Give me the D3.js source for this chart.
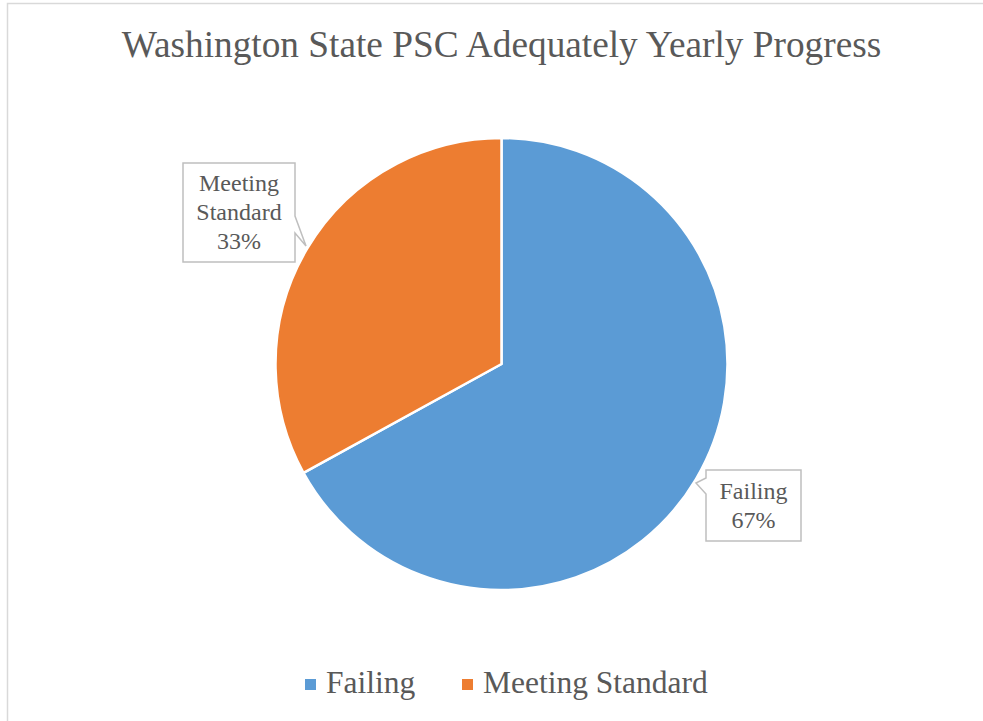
<!DOCTYPE html>
<html>
<head>
<meta charset="utf-8">
<script src="https://cdn.jsdelivr.net/npm/d3@7"></script>
<style>
  html, body { margin: 0; padding: 0; background: #fff; }
</style>
</head>
<body>
<svg width="983" height="721"></svg>
<script>
var categories = ['Failing', 'Meeting Standard'];
var values = [67, 33];
var labels = ['67%', '33%'];
var colors = ['#5B9BD5', '#ED7D31'];

var width = 983, height = 721;
var cx = 501.5, cy = 364, radius = 226;
var font = "'Liberation Serif', 'DejaVu Serif', 'Times New Roman', serif";

var svg = d3.select('svg')
  .attr('font-family', font);

// chart area border (only top/left visible in the crop)
svg.append('rect')
  .attr('x', 7.5).attr('y', 3.5)
  .attr('width', 1000).attr('height', 1000)
  .attr('fill', 'none')
  .attr('stroke', '#d9d9d9')
  .attr('stroke-width', 1.5);

svg.append('text')
  .attr('x', cx).attr('y', 57)
  .attr('text-anchor', 'middle')
  .attr('fill', '#595959')
  .style('font-family', font)
  .style('font-size', '37.3px')
  .text('Washington State PSC Adequately Yearly Progress');

var data = categories.map(function(c, i) {
  return { name: c, value: values[i], label: labels[i], color: colors[i] };
});

var pie = d3.pie().sort(null).value(function(d) { return d.value; });
var arc = d3.arc().innerRadius(0).outerRadius(radius);
var arcs = pie(data);

var g = svg.append('g').attr('transform', 'translate(' + cx + ',' + cy + ')');

g.selectAll('path')
  .data(arcs)
  .enter()
  .append('path')
  .attr('d', arc)
  .attr('fill', function(d) { return d.data.color; })
  .attr('stroke', '#fff')
  .attr('stroke-width', 2.5)
  .attr('stroke-linejoin', 'round');

// callouts: box + pointer tip
var callouts = [
  { box: [706, 470, 801, 541], tip: [696, 483], side: 'left', e0: 478, e1: 494 },
  { box: [183, 163, 295, 262], tip: [306, 246], side: 'right', e0: 216, e1: 233 }
];

callouts.forEach(function(c, i) {
  var b = c.box;
  var pts;
  if (c.side === 'left') {
    pts = [[b[0], b[1]], [b[2], b[1]], [b[2], b[3]], [b[0], b[3]],
           [b[0], c.e1], c.tip, [b[0], c.e0]];
  } else {
    pts = [[b[0], b[1]], [b[2], b[1]], [b[2], c.e0], c.tip, [b[2], c.e1],
           [b[2], b[3]], [b[0], b[3]]];
  }
  svg.append('path')
    .attr('d', d3.line()(pts) + 'Z')
    .attr('fill', '#fff')
    .attr('stroke', '#bfbfbf')
    .attr('stroke-width', 1.5);

  var lines = data[i].name === 'Meeting Standard'
    ? ['Meeting', 'Standard', data[i].label]
    : [data[i].name, data[i].label];
  var mid = (b[0] + b[2]) / 2;
  var lh = 29;
  var top = (b[1] + b[3]) / 2 - (lines.length * lh) / 2;
  svg.append('text')
    .attr('text-anchor', 'middle')
    .attr('fill', '#595959')
    .style('font-family', font)
    .style('font-size', '24px')
    .selectAll('tspan')
    .data(lines)
    .enter()
    .append('tspan')
    .attr('x', mid)
    .attr('y', function(d, j) { return top + lh * j + 22; })
    .text(function(d) { return d; });
});

// legend
var legend = svg.append('g');
var lx = [305, 462];
data.forEach(function(d, i) {
  legend.append('rect')
    .attr('x', lx[i]).attr('y', 679)
    .attr('width', 11).attr('height', 11)
    .attr('fill', d.color);
  legend.append('text')
    .attr('x', lx[i] + 21).attr('y', 693)
    .attr('fill', '#595959')
    .style('font-family', font)
    .style('font-size', '31.5px')
    .text(d.name);
});
</script>
</body>
</html>
